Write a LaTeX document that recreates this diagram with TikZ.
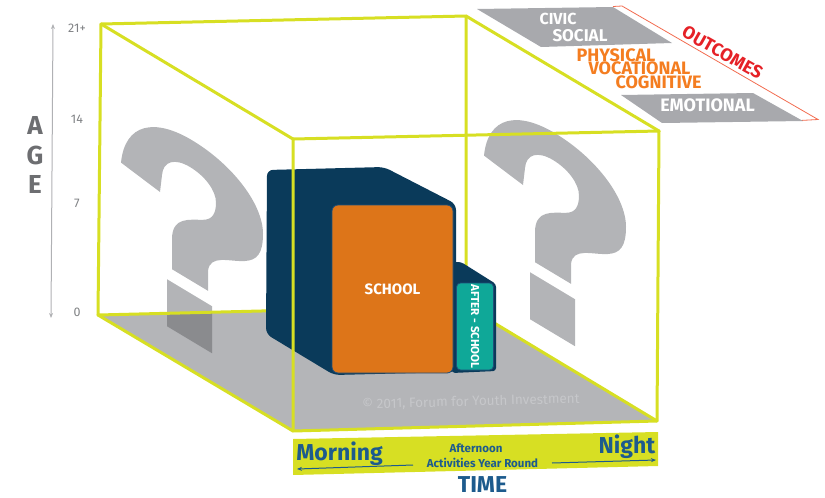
\documentclass[tikz,border=0pt]{standalone}
\usepackage{fontspec}
\setmainfont{Fira Sans}
\usetikzlibrary{arrows.meta}
\definecolor{lime}{HTML}{D7DF23}
\definecolor{floorgray}{HTML}{B4B5B8}
\definecolor{qgray}{HTML}{B3B4B7}
\definecolor{qdark}{HTML}{8A8B8E}
\definecolor{navy}{HTML}{0A3A5A}
\definecolor{navyline}{HTML}{1F4E79}
\definecolor{schoolor}{HTML}{DD7519}
\definecolor{teal}{HTML}{0FA898}
\definecolor{ogray}{HTML}{A8A9AD}
\definecolor{otext}{HTML}{F47D20}
\definecolor{ored}{HTML}{E52127}
\definecolor{oline}{HTML}{F26B4F}
\definecolor{tblue}{HTML}{1D5B8D}
\definecolor{agegray}{HTML}{6D6E71}
\definecolor{numgray}{HTML}{808285}
\definecolor{axisgray}{HTML}{B0B1B4}
\definecolor{copygray}{HTML}{C6C7CA}
\tikzset{
  boxline/.style={draw=lime, line width=3pt, line join=round, line cap=round},
  whitecap/.style={text=white, inner sep=0pt, font=\bfseries\fontsize{17}{17}\selectfont},
  orcap/.style={text=otext, inner sep=0pt, font=\bfseries\fontsize{18}{18}\selectfont},
  agelet/.style={text=agegray, inner sep=0pt, font=\bfseries\fontsize{26}{26}\selectfont},
  agenum/.style={text=numgray, inner sep=0pt, font=\fontsize{12.5}{12.5}\selectfont},
  timebig/.style={text=tblue, inner sep=0pt, anchor=base, font=\bfseries\fontsize{23}{23}\selectfont},
  timesmall/.style={text=tblue, inner sep=0pt, anchor=base, font=\bfseries\fontsize{11.5}{11.5}\selectfont},
  timearrow/.style={draw=tblue, line width=1pt, -{Stealth[length=5pt,width=4pt]}},
  schoolface/.style={fill=schoolor, draw=navyline, line width=0.8pt, rounded corners=6pt,
    text=white, inner sep=0pt, font=\bfseries\fontsize{15}{15}\selectfont},
  afterface/.style={fill=teal, draw=navyline, line width=0.8pt, rounded corners=4pt,
    text=white, inner sep=0pt, font=\bfseries\fontsize{11.5}{11.5}\selectfont},
  qmark/.pic={
    \fill[qgray] (1,162) .. controls (5,120) and (35,97) .. (72,97)
      .. controls (112,97) and (143,118) .. (143,148)
      .. controls (143,168) and (137,178) .. (125,186)
      .. controls (110,196) and (90,200) .. (88,218)
      -- (88,238) -- (52,238) -- (52,208)
      .. controls (52,185) and (70,178) .. (83,170)
      .. controls (93,164) and (96,155) .. (96,145)
      .. controls (96,133) and (85,125) .. (70,125)
      .. controls (55,125) and (43,135) .. (42,150)
      -- (40,168) -- cycle;
    \fill[qgray] (47,251) -- (92,251) -- (92,298) -- (47,298) -- cycle;
  }
}
\begin{document}
\begin{tikzpicture}[x=1pt,y=-1pt]
\useasboundingbox (0,0) rectangle (825,498);
% cube corners
\coordinate (BTL) at (101,24);
\coordinate (BTR) at (466,16);
\coordinate (BBL) at (98,315);
\coordinate (BBR) at (466,306);
\coordinate (FTL) at (293,139);
\coordinate (FTR) at (659,131);
\coordinate (FBL) at (293,431);
\coordinate (FBR) at (657,421);
% floor
\fill[floorgray] (BBL) -- (BBR) -- (FBR) -- (FBL) -- cycle;
% copyright
\node[text=copygray, inner sep=0pt, rotate=1.5, font=\fontsize{13.5}{13.5}\selectfont] (copy) at (471,402) {© 2011, Forum for Youth Investment};
% question marks
\pic[shift={(120,0)}, yslant=-0.6] (qleft) {qmark};
\pic[shift={(483,-7)}, yslant=-0.6] (qright) {qmark};
\begin{scope}
  \clip (BBL) -- (BBR) -- (FBR) -- (FBL) -- cycle;
  \fill[qdark, shift={(120,0)}, yslant=-0.6] (47,251) -- (92,251) -- (92,298) -- (47,298) -- cycle;
\end{scope}
% back and side edges
\draw[boxline] (BTL) -- (BTR) -- (BBR) -- (BBL) -- cycle;
\draw[boxline] (BTL) -- (FTL);
\draw[boxline] (BTR) -- (FTR);
\draw[boxline] (BBL) -- (FBL);
\draw[boxline] (BBR) -- (FBR);
% school block
\fill[navy, rounded corners=6pt] (267,170) -- (384,167) -- (456,204) -- (456,372) -- (334,375) -- (266,334) -- cycle;
\fill[navy, rounded corners=3pt] (452,262) -- (461,262) -- (496,284) -- (496,371) -- (452,373) -- cycle;
\node[schoolface, minimum width=121pt, minimum height=168pt] (school) at (392.5,289) {SCHOOL};
\node[afterface, rotate=-90, minimum width=87pt, minimum height=37pt] (after) at (475,326.5) {AFTER - SCHOOL};
% front face
\draw[boxline] (FTL) -- (FTR) -- (FBR) -- (FBL) -- cycle;
% age axis
\coordinate (ageTop) at (53,24);
\coordinate (ageBot) at (51,318);
\draw[draw=axisgray, line width=1pt, {Stealth[length=5pt,width=4pt]}-{Stealth[length=5pt,width=4pt]}] (ageTop) -- (ageBot);
\node[agenum] (n21) at (77,28) {21+};
\node[agenum] (n14) at (77,119) {14};
\node[agenum] (n7) at (77,203) {7};
\node[agenum] (n0) at (77,312) {0};
\node[agelet] (la) at (35,125) {A};
\node[agelet] (lg) at (35,155) {G};
\node[agelet] (le) at (35,184) {E};
% time bar
\fill[lime] (293,439) -- (658,432) -- (658,466) -- (293,475) -- cycle;
\node[timebig] (morning) at (339.5,460) {Morning};
\node[timebig] (night) at (627,453) {Night};
\node[timesmall] (aftn) at (476,452.5) {Afternoon};
\node[timesmall] (acts) at (482.5,467) {Activities Year Round};
\node[timebig] (time) at (482.5,492) {TIME};
\coordinate (laS) at (413,465);
\coordinate (laE) at (297,469);
\coordinate (raS) at (552,463);
\coordinate (raE) at (656,460);
\draw[timearrow] (laS) -- (laE);
\draw[timearrow] (raS) -- (raE);
% outcomes
\coordinate (r1) at (613,6.5);
\coordinate (r2) at (622,6);
\coordinate (r3) at (818,119.5);
\coordinate (r4) at (800,120.5);
\draw[draw=oline, line width=0.8pt] (r1) -- (r2) -- (r3) -- (r4);
\fill[ogray] (477,9) -- (613,7) -- (672,43) -- (541,47) -- cycle;
\fill[ogray] (621,95) -- (753,93) -- (803,121) -- (662,123) -- cycle;
\node[whitecap, font=\bfseries\fontsize{16}{16}\selectfont] (civic) at (558,18.5) {CIVIC};
\node[whitecap] (social) at (580,35.5) {SOCIAL};
\node[orcap] (phys) at (616,55.5) {PHYSICAL};
\node[orcap] (voc) at (639.5,68.5) {VOCATIONAL};
\node[orcap] (cog) at (658.5,82) {COGNITIVE};
\node[whitecap, font=\bfseries\fontsize{18}{18}\selectfont] (emo) at (707.5,105.5) {EMOTIONAL};
\node[text=ored, inner sep=0pt, rotate=-29.5, font=\bfseries\fontsize{18}{18}\selectfont] (outc) at (722.5,52.5) {OUTCOMES};
\end{tikzpicture}
\end{document}
